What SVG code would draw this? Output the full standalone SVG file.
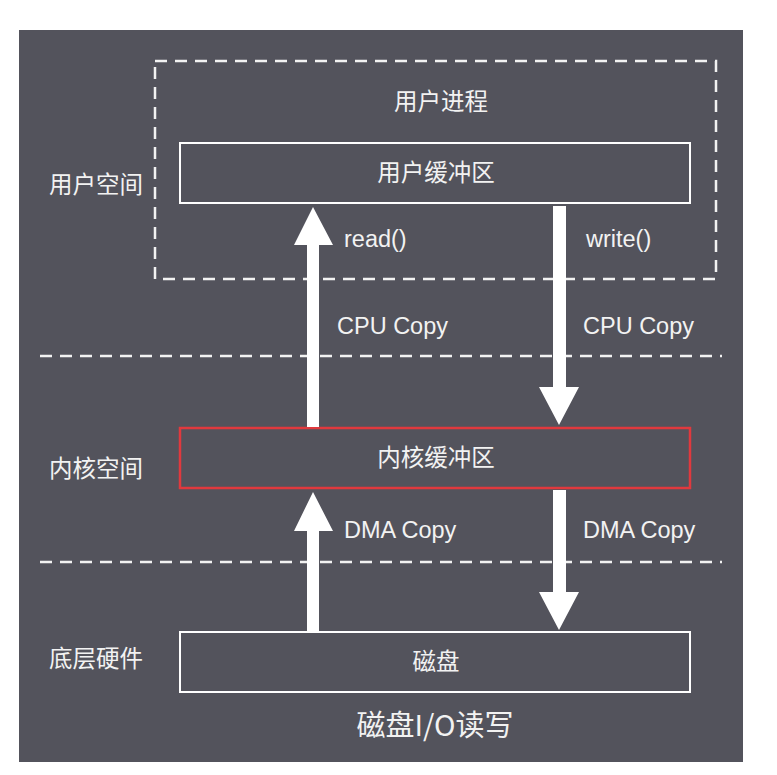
<svg xmlns="http://www.w3.org/2000/svg" width="777" height="775" viewBox="0 0 777 775">
<style>
.t{font-family:"Noto Sans CJK SC","Liberation Sans",sans-serif;fill:#f2f2f2;font-size:23.5px}
.e{font-family:"Liberation Sans",Arial,sans-serif;fill:#f2f2f2;font-size:23.5px}
.box{fill:none;stroke:#ffffff;stroke-width:2}
.dash{fill:none;stroke:#f2f2f2;stroke-width:2.5;stroke-dasharray:12 8}
.arr{fill:#ffffff}
</style>
<rect width="777" height="775" fill="#ffffff"/>
<rect x="19" y="30" width="724" height="732" fill="#53535c"/>
<g id="layers">
<line class="dash" x1="40" y1="356" x2="722" y2="356"/>
<line class="dash" x1="40" y1="562" x2="722" y2="562"/>
<text class="t" x="49" y="193">用户空间</text>
<text class="t" x="49" y="477">内核空间</text>
<text class="t" x="49" y="667">底层硬件</text>
</g>
<g id="user-process">
<rect class="dash" x="155" y="61" width="561" height="218"/>
<text class="t" x="441" y="110" text-anchor="middle">用户进程</text>
</g>
<g id="user-buffer">
<rect class="box" x="180" y="143" width="510" height="60"/>
<text class="t" x="436" y="181" text-anchor="middle">用户缓冲区</text>
</g>
<g id="kernel-buffer">
<rect x="180" y="428" width="510" height="60" fill="none" stroke="#e0393e" stroke-width="2.5"/>
<text class="t" x="436" y="466" text-anchor="middle">内核缓冲区</text>
</g>
<g id="disk">
<rect class="box" x="180" y="632" width="510" height="60"/>
<text class="t" x="436" y="670" text-anchor="middle">磁盘</text>
</g>
<g id="connectors">
<polygon class="arr" points="307,427 307,245 294,245 313,207 333,245 319,245 319,427"/>
<polygon class="arr" points="553,206 553,387 539,387 559,425 579,387 566,387 566,206"/>
<polygon class="arr" points="307,632 307,531 294,531 313,492 333,531 319,531 319,632"/>
<polygon class="arr" points="553,490 553,592 539,592 559,630 579,592 566,592 566,490"/>
<text class="e" x="344" y="247">read()</text>
<text class="e" x="586" y="247">write()</text>
<text class="e" x="337" y="334">CPU Copy</text>
<text class="e" x="583" y="334">CPU Copy</text>
<text class="e" x="344" y="538">DMA Copy</text>
<text class="e" x="583" y="538">DMA Copy</text>
</g>
<text class="t" x="435" y="736" text-anchor="middle" style="font-size:29px">磁盘I/O读写</text>
</svg>
